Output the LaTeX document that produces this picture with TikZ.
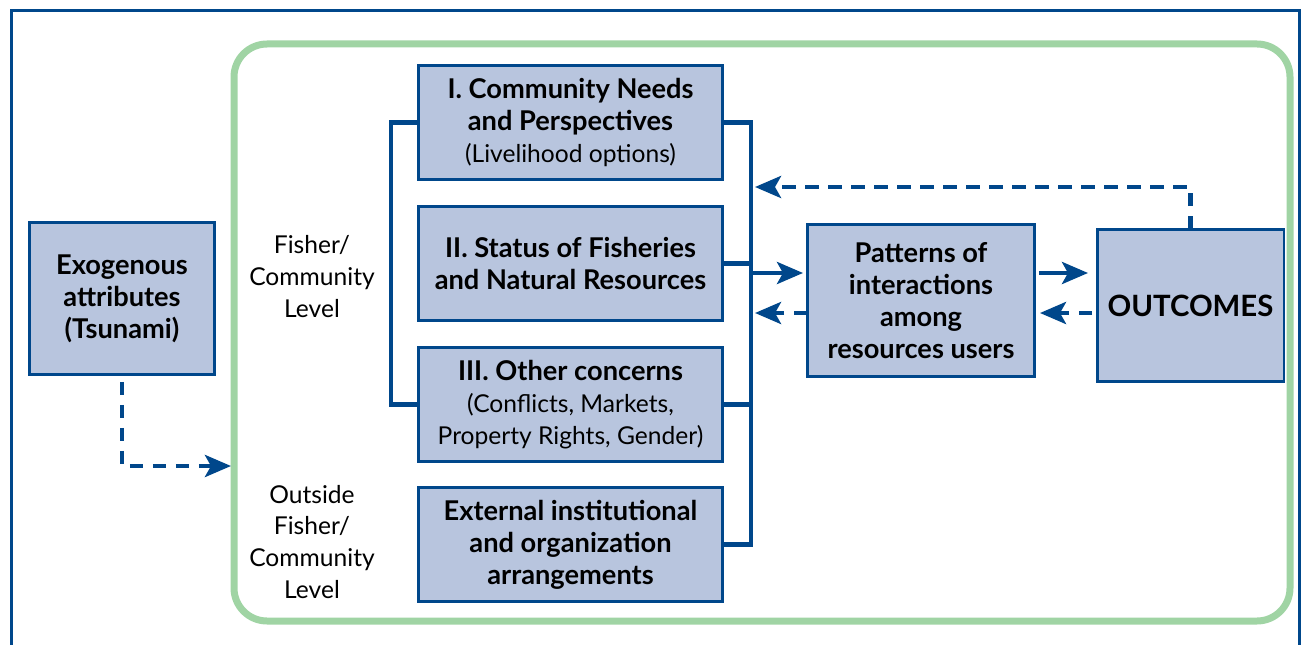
\documentclass[tikz,border=0pt]{standalone}
\usepackage{fontspec}
\setmainfont{Lato}
\usetikzlibrary{arrows.meta,calc}

\definecolor{navy}{RGB}{0,71,139}
\definecolor{boxfill}{RGB}{184,197,222}
\definecolor{frame}{RGB}{160,212,164}
\newcommand{\subline}[1]{{\mdseries\fontsize{14}{18.2}\selectfont #1}}

\begin{document}
\begin{tikzpicture}[x=0.02cm,y=-0.02cm,
    box/.style={draw=navy,fill=boxfill,line width=0.06cm,inner sep=0pt,outer sep=0pt,
      align=center,font=\fontsize{15.5}{18.2}\selectfont\bfseries},
    bar/.style={draw=navy,line width=0.09cm},
    arr/.style={bar,-{Stealth[length=0.52cm,width=0.44cm,inset=0.12cm]}},
    dasharr/.style={arr,dash pattern=on 0.27cm off 0.19cm},
    lvl/.style={align=center,font=\fontsize{14}{18.2}\selectfont}]
  \useasboundingbox (0,0) rectangle (1301,645);
  % outer frame, open at the bottom
  \draw[navy,line width=0.06cm] (11.5,645) -- (11.5,10.5) -- (1299,10.5) -- (1299,645);
  % community frame
  \draw[frame,line width=0.14cm,rounded corners=0.66cm] (234,44) rectangle (1290,621);

  % boxes
  \node[box,minimum width=3.72cm,minimum height=3.06cm] (exo) at (122,298.5)
    {Exogenous\\attributes\\(Tsunami)};
  \node[box,minimum width=6.1cm,minimum height=2.3cm] (needs) at (570.5,122.5)
    {I. Community Needs\\and Perspectives\\\subline{(Livelihood options)}};
  \node[box,minimum width=6.1cm,minimum height=2.3cm] (status) at (570.5,263.5)
    {II. Status of Fisheries\\and Natural Resources};
  \node[box,minimum width=6.1cm,minimum height=2.3cm] (other) at (570.5,404.5)
    {III. Other concerns\\\subline{(Conflicts, Markets,}\\\subline{Property Rights, Gender)}};
  \node[box,minimum width=6.1cm,minimum height=2.3cm] (extern) at (570.5,544.5)
    {External institutional\\and organization\\arrangements};
  \node[box,minimum width=4.56cm,minimum height=3.06cm] (pat) at (921,300.5)
    {Patterns of\\interactions\\among\\resources users};
  \node[box,minimum width=3.74cm,minimum height=3.06cm,font=\fontsize{16.7}{18.2}\selectfont\bfseries] (out) at (1190.5,305.5)
    {OUTCOMES};

  % level labels
  \node[lvl] (inlvl) at (312,277) {Fisher/\\Community\\Level};
  \node[lvl] (outlvl) at (312,542) {Outside\\Fisher/\\Community\\Level};

  % brackets
  \coordinate (lbar) at (391,0);
  \coordinate (rbar) at (751,0);
  \draw[bar] (needs.west) -- (needs.west -| lbar) -- (other.west -| lbar) -- (other.west);
  \draw[bar] (needs.east) -- (needs.east -| rbar) -- (extern.east -| rbar) -- (extern.east);
  \draw[bar] (status.east) -- (status.east -| rbar);
  \draw[bar] (other.east) -- (other.east -| rbar);

  % links to and from the patterns box
  \coordinate (pin) at ($(pat.west)+(0,-27.5)$);
  \coordinate (pback) at ($(pat.west)+(0,12.5)$);
  \draw[arr,shorten >=0.08cm] (pin -| rbar) -- (pin);
  \draw[dasharr] (pback) -- ($(pback -| rbar)+(4,0)$);
  \coordinate (oin) at ($(out.west)+(0,-32.5)$);
  \coordinate (oback) at ($(out.west)+(0,7.5)$);
  \draw[arr,shorten <=0.08cm,shorten >=0.18cm] (oin -| pat.east) -- (oin);
  \draw[dasharr,shorten <=0.1cm,shorten >=0.1cm] (oback) -- (oback -| pat.east);

  % feedback and tsunami links
  \coordinate (fb) at (755,187);
  \draw[dasharr] (out.north) |- (fb);
  \coordinate (gin) at (231,466);
  \draw[dasharr] ([yshift=-0.14cm]exo.south) |- (gin);
\end{tikzpicture}
\end{document}
